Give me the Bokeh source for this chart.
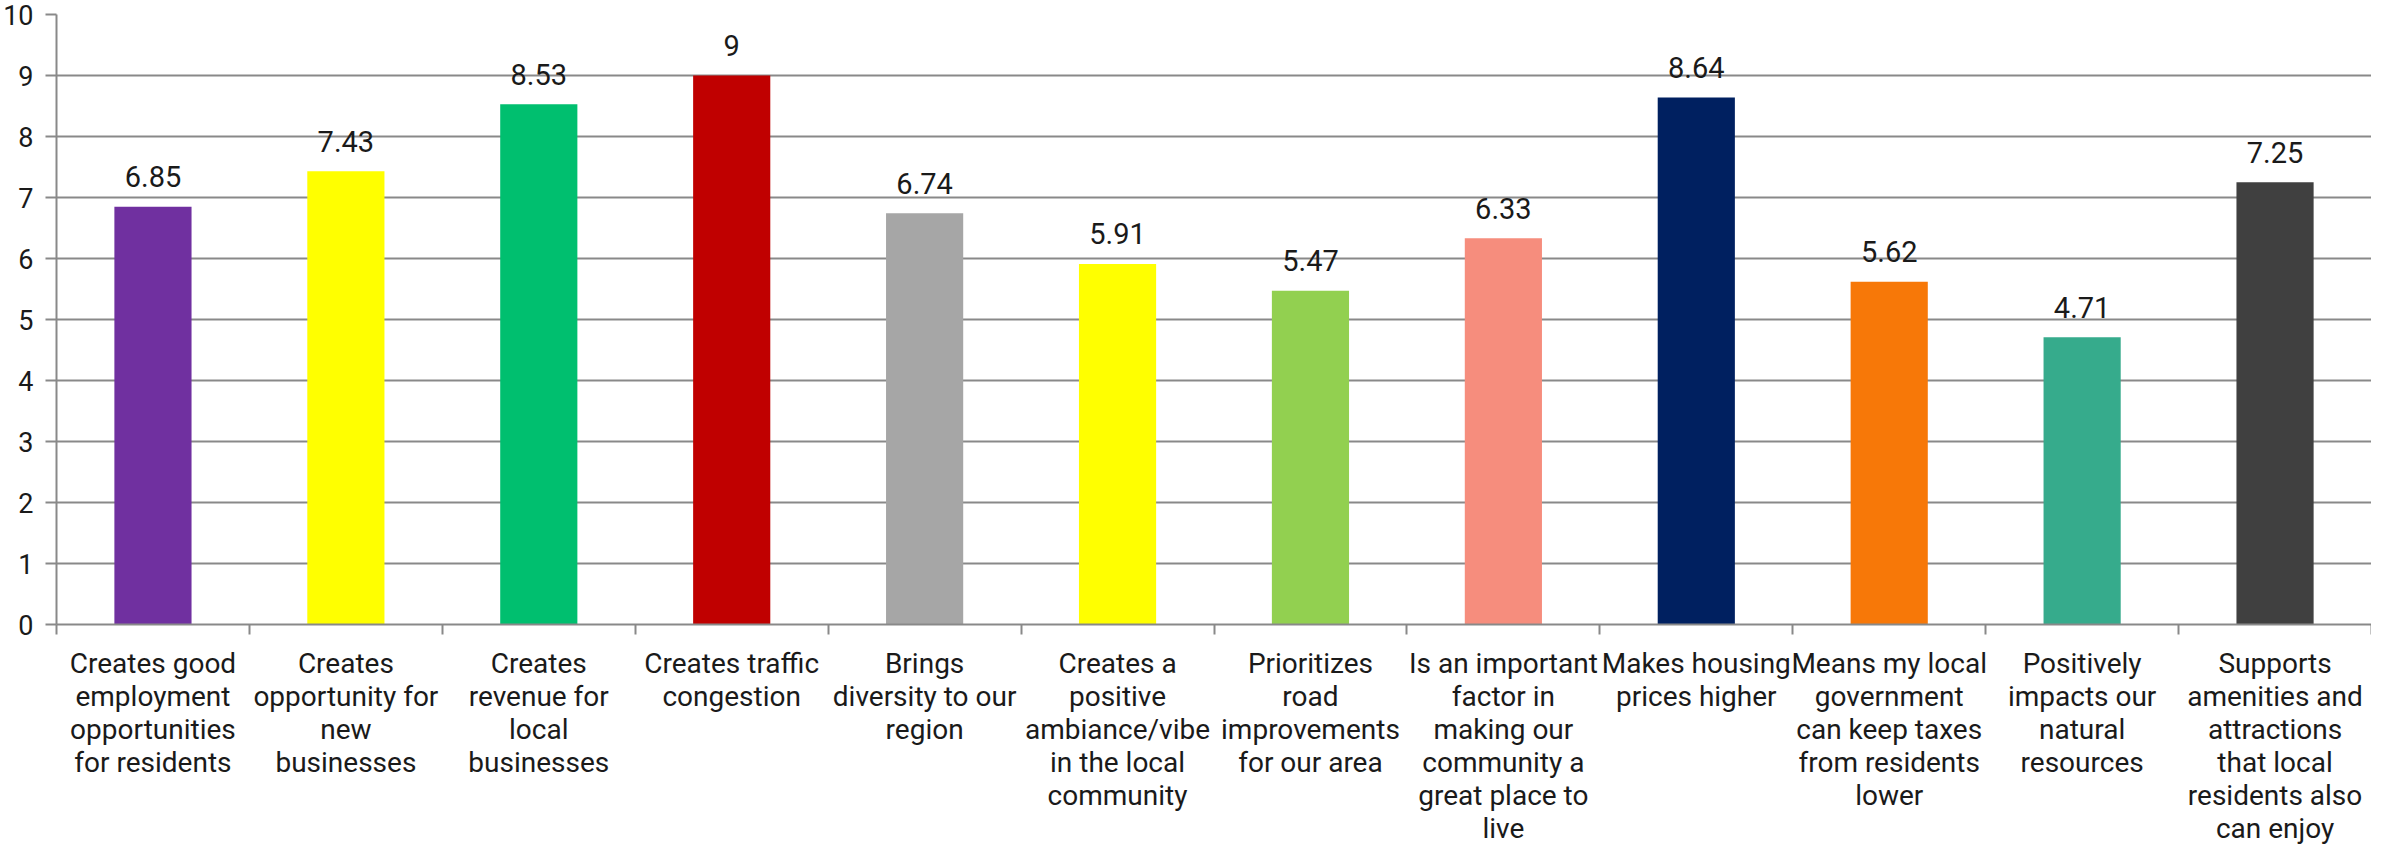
from bokeh.plotting import figure
from bokeh.models import ColumnDataSource, Range1d, FixedTicker
from bokeh.core.properties import value
from bokeh.embed import file_html
from bokeh.resources import INLINE

categories = [
    "Creates good\nemployment\nopportunities\nfor residents",
    "Creates\nopportunity for\nnew\nbusinesses",
    "Creates\nrevenue for\nlocal\nbusinesses",
    "Creates traffic\ncongestion",
    "Brings\ndiversity to our\nregion",
    "Creates a\npositive\nambiance/vibe\nin the local\ncommunity",
    "Prioritizes\nroad\nimprovements\nfor our area",
    "Is an important\nfactor in\nmaking our\ncommunity a\ngreat place to\nlive",
    "Makes housing\nprices higher",
    "Means my local\ngovernment\ncan keep taxes\nfrom residents\nlower",
    "Positively\nimpacts our\nnatural\nresources",
    "Supports\namenities and\nattractions\nthat local\nresidents also\ncan enjoy",
]
values = [6.85, 7.43, 8.53, 9, 6.74, 5.91, 5.47, 6.33, 8.64, 5.62, 4.71, 7.25]
colors = ["#7030A0", "#FFFF00", "#00BF6F", "#C00000", "#A6A6A6", "#FFFF00",
          "#92D050", "#F68D7D", "#002060", "#F77808", "#36AB8C", "#404040"]
y_ticks = [0, 1, 2, 3, 4, 5, 6, 7, 8, 9, 10]

FONT = "Roboto"
GRID = "#898989"
TEXT = "#1a1a1a"

idx = list(range(len(categories)))
src = ColumnDataSource(dict(
    x=idx,
    top=values,
    color=colors,
    label=[f"{v:g}" for v in values],
))

p = figure(width=2371, height=847, output_backend="svg", toolbar_location=None,
           x_range=Range1d(-0.5, len(categories) - 0.5),
           y_range=Range1d(y_ticks[0], y_ticks[-1]),
           min_border_left=0, min_border_right=0, min_border_top=14, min_border_bottom=0)
p.outline_line_color = None
p.background_fill_color = "white"
p.border_fill_color = "white"

p.vbar(x="x", top="top", bottom=0, width=0.4, fill_color="color", line_color=None, source=src)
p.text(x="x", y="top", text="label", source=src, text_align="center",
       text_baseline="alphabetic", y_offset=-30, text_font=value(FONT),
       text_font_size="29px", text_color=TEXT)

# x axis
xa = p.xaxis[0]
xa.ticker = FixedTicker(ticks=idx, minor_ticks=[i - 0.5 for i in idx] + [idx[-1] + 0.5])
xa.major_label_overrides = {i: c for i, c in zip(idx, categories)}
xa.major_tick_out = 0
xa.major_tick_in = 0
xa.minor_tick_out = 10
xa.minor_tick_in = 0
xa.minor_tick_line_color = GRID
xa.minor_tick_line_width = 2
xa.axis_line_color = GRID
xa.axis_line_width = 2
xa.major_label_standoff = 12
xa.major_label_text_font = FONT
xa.major_label_text_font_size = "28px"
xa.major_label_text_color = TEXT
xa.major_label_text_line_height = 1.0
p.xgrid.grid_line_color = None

# y axis
ya = p.yaxis[0]
ya.ticker = FixedTicker(ticks=y_ticks)
ya.major_tick_out = 11
ya.major_tick_in = 0
ya.minor_tick_line_color = None
ya.major_tick_line_color = GRID
ya.major_tick_line_width = 2
ya.axis_line_color = GRID
ya.axis_line_width = 2
ya.major_label_standoff = 12
ya.major_label_text_font = FONT
ya.major_label_text_font_size = "27px"
ya.major_label_text_color = TEXT
p.ygrid.grid_line_color = GRID
p.ygrid.grid_line_width = 2
p.ygrid.ticker = FixedTicker(ticks=y_ticks)

open("out.html", "w").write(file_html(p, INLINE))
